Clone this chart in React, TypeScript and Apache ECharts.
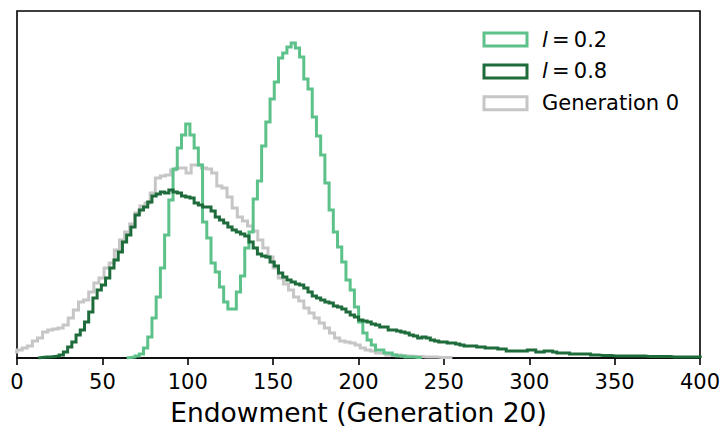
import React, { useEffect, useRef } from "react";
import * as echarts from "echarts";

// Histogram bin layout (bin left edge of first bin, bin width)
const greenBinWidth = 2.47;
const lightStart = 26 * 2.47; // l = 0.2 first bin
const darkStart = 5 * 2.47; // l = 0.8 first bin
const grayStart = -3;
const grayBinWidth = 3;

// Counts per bin (arbitrary units)
const countsL02 = [
  0.5, 1, 2, 4, 10, 21, 40, 61, 90, 123, 158, 189, 210, 223, 234, 223, 210, 193, 136, 120,
  95, 86, 71, 56, 49, 49, 66, 82, 110, 126, 159, 177, 212, 236, 259, 276, 300, 305, 311, 315,
  310, 301, 279, 269, 241, 222, 203, 175, 148, 126, 111, 96, 78, 68, 51, 36, 25, 18, 13, 8,
  8, 5, 5, 3, 2, 2, 1, 1, 0.5, 0.5,
];

const countsL08 = [
  0.5, 1, 1, 1.5, 2, 3, 6, 11, 16, 23, 28, 36, 46, 60, 68, 73, 80, 90, 98, 106,
  116, 123, 131, 143, 148, 151, 156, 162, 164, 166, 165, 168, 166, 165, 162, 161, 160, 155, 153, 151,
  151, 147, 141, 138, 135, 131, 128, 126, 124, 122, 116, 110, 104, 102, 101, 96, 92, 85, 81, 78,
  76, 74, 73, 70, 66, 62, 60, 58, 56, 55, 52, 51, 49, 46, 43, 41, 38, 37, 36, 34,
  33, 31, 31, 28, 28, 27, 26, 25, 23, 22, 20, 21, 20, 18, 17, 16, 16, 15, 15, 14,
  13, 12, 12, 12, 11, 11, 10, 10, 10, 9, 9, 7, 7, 7, 7, 7, 8, 8, 6, 6,
  7, 7, 6, 5, 5, 5, 4, 4, 4, 4, 4, 3, 3, 2.5, 2.5, 2.5, 2, 2, 2, 2,
  2, 2, 2, 2, 1.5, 1.5, 1.5, 1.5, 1.5, 1.5, 1, 1, 1, 1, 1, 1, 1,
];

const countsGen0 = [
  6, 8, 10, 12, 17, 20, 26, 28, 29, 30, 33, 40, 48, 56, 58, 66, 75, 80, 90, 95,
  108, 118, 126, 134, 145, 152, 155, 165, 180, 182, 183, 188, 190, 190, 185, 193, 193, 190, 189, 185,
  172, 170, 161, 150, 141, 137, 132, 127, 118, 110, 101, 90, 80, 74, 68, 61, 57, 50, 45, 40,
  35, 30, 25, 20, 17, 16, 15, 13, 10, 8, 7, 5, 5, 3, 3, 3, 2, 2, 1.5, 1.5,
  1, 1, 1, 0.5, 0.5, 0.5,
];

const xTicks = [0, 50, 100, 150, 200, 250, 300, 350, 400];
const seriesNames = ["l = 0.2", "l = 0.8", "Generation 0"];
const colors = ["#5cc28a", "#1e6c3b", "#c6c6c6"];

function outline(start: number, w: number, counts: number[]): number[][] {
  const pts: number[][] = [[start, 0]];
  counts.forEach((c, i) => {
    pts.push([start + i * w, c]);
    pts.push([start + (i + 1) * w, c]);
  });
  pts.push([start + counts.length * w, 0]);
  return pts;
}

export default function App() {
  const ref = useRef<HTMLDivElement>(null);
  useEffect(() => {
    if (!ref.current) return;
    const chart = echarts.init(ref.current, undefined, { renderer: "svg" });
    const font = "DejaVu Sans";
    const mkSeries = (name: string, data: number[][], color: string, z: number) => ({
      name,
      type: "line",
      data,
      symbol: "none",
      showSymbol: false,
      clip: true,
      z,
      lineStyle: { color, width: 3, join: "miter", cap: "butt" },
      itemStyle: { color },
      emphasis: { disabled: true },
    });
    chart.setOption({
      animation: false,
      backgroundColor: "#fff",
      textStyle: { fontFamily: font },
      grid: {
        left: 17,
        right: 25,
        top: 11,
        bottom: 80,
        show: true,
        borderColor: "#000",
        borderWidth: 1.6,
        backgroundColor: "transparent",
      },
      xAxis: {
        type: "value",
        min: xTicks[0],
        max: xTicks[xTicks.length - 1],
        interval: 50,
        axisLine: { show: true, lineStyle: { color: "#000", width: 1.6 } },
        axisTick: { show: true, inside: false, length: 7, lineStyle: { color: "#000", width: 1.6 } },
        axisLabel: { color: "#000", fontSize: 21, margin: 13, fontFamily: font },
        splitLine: { show: false },
        name: "Endowment (Generation 20)",
        nameLocation: "middle",
        nameGap: 41,
        nameTextStyle: { color: "#000", fontSize: 26.5, fontFamily: font },
      },
      yAxis: {
        type: "value",
        min: 0,
        max: 347,
        show: false,
      },
      legend: {
        orient: "vertical",
        left: 482.5,
        top: 29,
        padding: 0,
        itemWidth: 43,
        itemHeight: 13,
        itemGap: 10.9,
        data: seriesNames.map((n, i) => ({
          name: n,
          icon: "rect",
          itemStyle: { color: "#fff", borderColor: colors[i], borderWidth: 3 },
        })),
        formatter: (name: string) =>
          name.startsWith("l ") ? `{it|l}\u2009=\u2009${name.slice(4)}` : name,
        textStyle: {
          color: "#000",
          fontSize: 21,
          fontFamily: font,
          padding: [0, 0, 0, 10],
          rich: {
            it: { fontStyle: "italic", fontSize: 21, fontFamily: font, color: "#000" },
          },
        },
      },
      series: [
        mkSeries(seriesNames[2], outline(grayStart, grayBinWidth, countsGen0), colors[2], 1),
        mkSeries(seriesNames[0], outline(lightStart, greenBinWidth, countsL02), colors[0], 2),
        mkSeries(seriesNames[1], outline(darkStart, greenBinWidth, countsL08), colors[1], 3),
      ],
    });
    return () => chart.dispose();
  }, []);
  return (
    <div
      ref={ref}
      style={{ position: "fixed", left: 0, top: 0, width: 725, height: 438, background: "#fff" }}
    />
  );
}
